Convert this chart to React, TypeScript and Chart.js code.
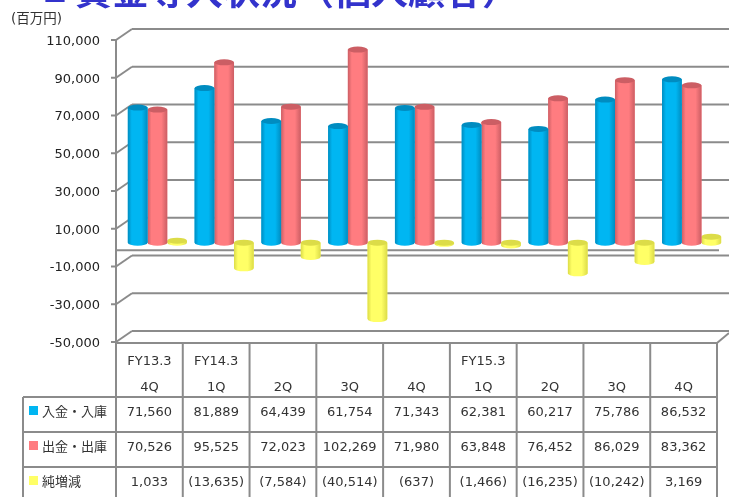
import React, { useEffect, useRef } from "react";
import { Chart, registerables } from "chart.js";

Chart.register(...registerables);

const periods = ["FY13.3", "FY14.3", "", "", "", "FY15.3", "", "", ""];
const quarters = ["4Q", "1Q", "2Q", "3Q", "4Q", "1Q", "2Q", "3Q", "4Q"];
const deposits = [71560, 81889, 64439, 61754, 71343, 62381, 60217, 75786, 86532];
const withdrawals = [70526, 95525, 72023, 102269, 71980, 63848, 76452, 86029, 83362];
const netChange = [1033, -13635, -7584, -40514, -637, -1466, -16235, -10242, 3169];
const seriesNames = ["入金・入庫", "出金・出庫", "純増減"];
const seriesColors = ["#00B6F2", "#FF7C80", "#FFFF66"];
const seriesDark = ["#008cc0", "#cc5e64", "#dcdc48"];
const titleMark = "■";
const titleText = "資金等入状況（個人顧客）";
const unitText = "(百万円)";

const GRID = "#8b8b8b";
const TEXT = "#333333";
const FONT = "'DejaVu Sans', 'Noto Sans CJK JP', sans-serif";
const DEPTH_X = 16;
const DEPTH_Y = 11;
const BAR_DX = 8;
const BAR_DY = -5;
const RY = 3;

const fmt = (v: number) => {
  const s = Math.abs(v).toLocaleString("en-US");
  return v < 0 ? `(${s})` : s;
};

function line(ctx: any, x1: number, y1: number, x2: number, y2: number) {
  ctx.beginPath();
  ctx.moveTo(x1, y1);
  ctx.lineTo(x2, y2);
  ctx.stroke();
}

const framePlugin = {
  id: "frame",
  beforeDatasetsDraw(chart: any) {
    const { ctx, chartArea: a, scales } = chart;
    const y = scales.y;
    ctx.save();
    ctx.strokeStyle = GRID;
    ctx.lineWidth = 2;
    for (const t of y.ticks) {
      const py = y.getPixelForValue(t.value);
      line(ctx, a.left - 5, py, a.left, py);
      line(ctx, a.left, py, a.left + DEPTH_X, py - DEPTH_Y);
      line(ctx, a.left + DEPTH_X, py - DEPTH_Y, 729, py - DEPTH_Y);
    }
    line(ctx, a.left, a.top, a.left, a.bottom);
    const z = y.getPixelForValue(0) + 2.5;
    line(ctx, a.left, z, a.right + 2, z);
    line(ctx, a.right, a.bottom + 1, 729, a.bottom - 9);
    ctx.restore();
  },
  beforeDatasetDraw(chart: any, args: any) {
    const { ctx } = chart;
    ctx.save();
    ctx.translate(BAR_DX, BAR_DY);
  },
  afterDatasetDraw(chart: any, args: any) {
    const { ctx } = chart;
    const meta = chart.getDatasetMeta(args.index);
    const color = seriesColors[args.index];
    const dark = seriesDark[args.index];
    for (const el of meta.data) {
      const left = el.x - el.width / 2;
      const right = el.x + el.width / 2;
      const top = Math.min(el.y, el.base);
      const low = Math.max(el.y, el.base);
      const g = ctx.createLinearGradient(left, 0, right, 0);
      g.addColorStop(0, dark);
      g.addColorStop(0.2, color);
      g.addColorStop(0.7, color);
      g.addColorStop(1, dark);
      ctx.beginPath();
      ctx.moveTo(left, top);
      ctx.lineTo(left, low);
      ctx.ellipse(el.x, low, el.width / 2, RY, 0, Math.PI, 0, true);
      ctx.lineTo(right, top);
      ctx.closePath();
      ctx.fillStyle = g;
      ctx.fill();
      ctx.beginPath();
      ctx.ellipse(el.x, top, el.width / 2, RY, 0, 0, Math.PI * 2);
      ctx.fillStyle = dark;
      ctx.fill();
    }
    ctx.restore();
  },
  afterDraw(chart: any) {
    const { ctx, chartArea: a } = chart;
    const colW = (a.right - a.left) / quarters.length;
    const rows = [397, 432, 467];
    const tableLeft = 23;
    ctx.save();
    ctx.strokeStyle = GRID;
    ctx.lineWidth = 2;
    line(ctx, a.left, a.bottom + 1, a.right, a.bottom + 1);
    for (let i = 0; i <= quarters.length; i++) {
      const x = a.left + i * colW;
      line(ctx, x, a.bottom + 1, x, 497);
    }
    for (const r of rows) line(ctx, tableLeft, r, a.right, r);
    line(ctx, tableLeft, rows[0], tableLeft, 497);

    ctx.textBaseline = "middle";
    ctx.fillStyle = TEXT;
    ctx.font = `13px ${FONT}`;
    ctx.textAlign = "center";
    [deposits, withdrawals, netChange].forEach((vals, r) => {
      vals.forEach((v, i) => {
        ctx.fillText(fmt(v), a.left + (i + 0.5) * colW, rows[r] + 15.5);
      });
    });
    ctx.textAlign = "left";
    seriesNames.forEach((name, r) => {
      ctx.fillStyle = seriesColors[r];
      ctx.fillRect(29, rows[r] + 9, 9, 9);
      ctx.fillStyle = TEXT;
      ctx.font = `13px 'Noto Sans CJK JP', sans-serif`;
      ctx.fillText(name, 42, rows[r] + 14.5);
    });

    ctx.fillStyle = TEXT;
    ctx.font = `13.5px ${FONT}`;
    ctx.fillText(unitText, 11, 19);

    ctx.fillStyle = "#3333CC";
    ctx.textBaseline = "alphabetic";
    ctx.font = `bold 24px 'Noto Sans CJK JP', sans-serif`;
    ctx.fillText(titleMark, 43, 1);
    ctx.font = `bold 37px 'Noto Sans CJK JP', sans-serif`;
    ctx.fillText(titleText, 75, 5);
    ctx.restore();
  },
};

export default function App() {
  const ref = useRef<HTMLCanvasElement>(null);
  useEffect(() => {
    const chart = new Chart(ref.current!, {
      type: "bar",
      data: {
        labels: quarters.map((q, i) => [periods[i], q]),
        datasets: [deposits, withdrawals, netChange].map((data, i) => ({
          label: seriesNames[i],
          data,
          backgroundColor: seriesColors[i],
          borderWidth: 0,
          categoryPercentage: 0.885,
          barPercentage: 1,
        })),
      },
      options: {
        animation: false,
        responsive: false,
        layout: { padding: { top: 40, right: 12, left: 0, bottom: 0 } },
        plugins: { legend: { display: false }, tooltip: { enabled: false }, title: { display: false } },
        scales: {
          x: {
            grid: { display: false, drawTicks: false },
            border: { display: false },
            afterFit(s: any) {
              s.height = 155;
            },
            ticks: {
              autoSkip: false,
              maxRotation: 0,
              minRotation: 0,
              padding: 6,
              color: TEXT,
              font: { family: FONT, size: 13, lineHeight: 2.03 },
            },
          },
          y: {
            min: -50000,
            max: 110000,
            grid: { display: false, drawTicks: false },
            border: { display: false },
            afterFit(s: any) {
              s.width = 116;
            },
            ticks: {
              stepSize: 20000,
              padding: 16,
              labelOffset: 1.5,
              color: "#222222",
              font: { family: FONT, size: 13 },
              callback: (v: any) => Number(v).toLocaleString("en-US"),
            },
          },
        },
      },
      plugins: [framePlugin],
    });
    return () => chart.destroy();
  }, []);
  return (
    <canvas
      ref={ref}
      width={729}
      height={497}
      style={{ position: "absolute", left: 0, top: 0, width: 729, height: 497, display: "block" }}
    />
  );
}
